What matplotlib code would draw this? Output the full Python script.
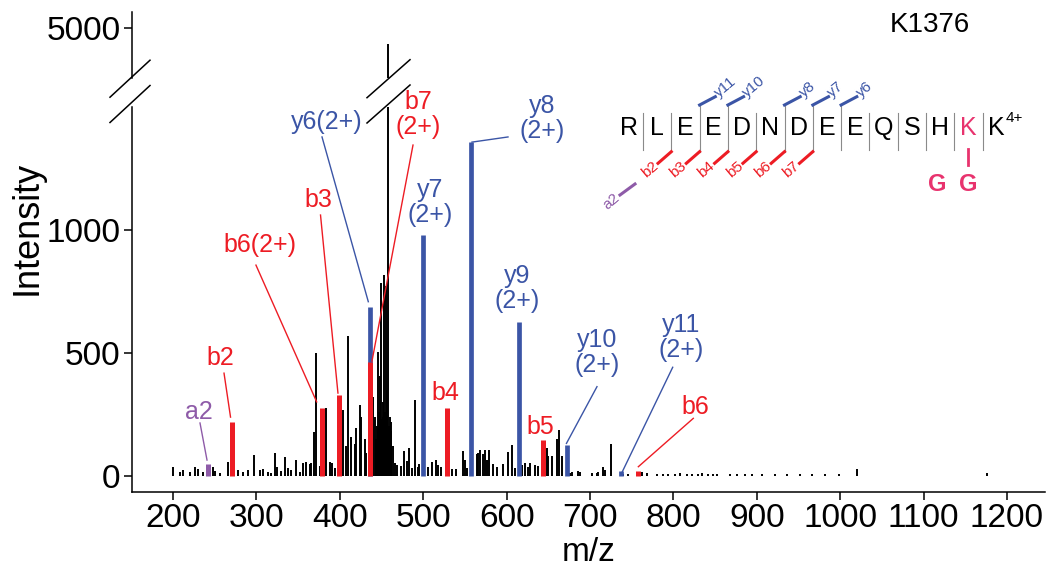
import matplotlib
matplotlib.use("Agg")
import matplotlib.pyplot as plt
from matplotlib.lines import Line2D

plt.rcParams["font.family"] = ["Liberation Sans", "DejaVu Sans"]

RED = "#ED1C24"
BLUE = "#3B55A6"
PURPLE = "#8E5BA8"
PINK = "#E8336E"

# ---- spectrum data (m/z, intensity) ----
black_mz = [200.4, 208, 212, 220, 226, 230, 236, 248, 250, 256, 265.6, 278, 284, 290,
            297.5, 304, 307.5, 314, 318, 322, 325, 330, 334, 338, 342, 347.5, 352, 356,
            360, 364, 366, 369.5, 372, 376, 383, 388, 391, 394, 402, 404, 407, 410, 414,
            418, 420, 424, 426, 430, 432, 440, 442, 444, 445, 446, 447, 448.5, 449, 450,
            451.5, 452, 453, 454, 455, 456.5, 457, 458, 459, 460, 461, 462, 464, 466, 469,
            474, 477, 481, 483, 486, 490, 494, 495, 506, 510, 515, 518, 521, 531, 535, 539,
            548, 550, 553, 564, 566, 568, 572, 574, 576, 579, 584, 588, 596, 602, 606, 610,
            618, 622, 626, 628, 634, 638, 646, 648, 650, 654, 660, 663, 666, 676, 678, 686,
            688, 702, 708, 710, 716, 718, 725, 740, 745, 762, 768, 780, 788, 794, 802, 808,
            816, 822, 830, 834, 842, 848, 852, 868, 876, 886, 894, 906, 922, 936, 952, 966,
            982, 998, 1020, 1176]
black_int = [33, 16, 22, 16, 33, 27, 14, 36, 20, 12, 56, 22, 16, 22,
             83, 22, 27, 16, 10, 93, 36, 20, 74, 29, 22, 63, 16, 50,
             55, 45, 50, 178, 500, 40, 276, 56, 50, 30, 80, 267, 120, 570, 158,
             130, 192, 287, 240, 150, 90, 321, 240, 150, 200, 504, 260, 404, 230, 783,
             300, 240, 817, 260, 770, 350, 230, 4935, 200, 240, 220, 180, 120, 50, 43,
             40, 100, 60, 113, 30, 307, 35, 48, 35, 55, 62, 42, 35, 50, 28, 28,
             100, 65, 30, 86, 92, 105, 86, 104, 62, 105, 48, 35, 48, 95, 125, 30,
             44, 50, 35, 50, 44, 37, 71, 111, 80, 78, 150, 185, 78, 12, 16, 20,
             16, 10, 10, 16, 33, 24, 128, 8, 5, 15, 10, 8, 8, 8, 8, 10,
             8, 8, 8, 10, 8, 8, 8, 8, 6, 8, 6, 6, 6, 6, 6, 6,
             6, 6, 25, 10]

b_mz = [270.2, 379.2, 399.2, 436.7, 528.3, 643.3, 757.4]
b_int = [219, 276, 328, 463, 275, 145, 20]
y_mz = [435.7, 500.25, 557.8, 614.8, 672.3, 736.8]
y_int = [688, 980, 1358, 625, 125, 18]
a_mz = [242.2]
a_int = [47]

x_ticks = [200, 300, 400, 500, 600, 700, 800, 900, 1000, 1100, 1200]
y_ticks_low = [0, 500, 1000]
y_ticks_high = [5000]

# peptide and observed fragment sites (site i = bond after residue i)
SEQUENCE = "RLEEDNDEEQSHKK"
MOD_RESIDUE = 12
y_sites = {3: "y11", 4: "y10", 6: "y8", 7: "y7", 8: "y6"}
b_sites = {2: "b2", 3: "b3", 4: "b4", 5: "b5", 6: "b6", 7: "b7"}

# peak labels: text, colour, label (m/z, int), leader start, leader end
labels = [
    ("a2", PURPLE, (231.5, 260), (232.4, 214), (240.8, 63)),
    ("b2", RED, (256.4, 477), (261.2, 417), (269, 238)),
    ("b6(2+)", RED, (304.3, 939), (299.5, 857), (372.3, 300)),
    ("b3", RED, (374.2, 1122), (376.9, 1061), (397.8, 336)),
    ("y6(2+)", BLUE, (384.3, 1441), (378.7, 1379), (434.2, 708)),
    ("b7\n(2+)", RED, (494.1, 1472), (487.8, 1346), (438.6, 466)),
    ("y7\n(2+)", BLUE, (508.2, 1112), None, None),
    ("y8\n(2+)", BLUE, (642.4, 1456), (601.7, 1379), (558.5, 1358)),
    ("y9\n(2+)", BLUE, (612.1, 760), None, None),
    ("y10\n(2+)", BLUE, (708, 501), (708.4, 362), (671.8, 131)),
    ("y11\n(2+)", BLUE, (809, 562), (799.2, 441), (738.7, 15)),
    ("b4", RED, (526.1, 335), None, None),
    ("b5", RED, (640.9, 199), None, None),
    ("b6", RED, (825.9, 280), (823.9, 233), (758, 36)),
]

W, H = 1056, 567
fig = plt.figure(figsize=(W / 100, H / 100), dpi=100)


def fx(x):
    return x / W


def fy(y):
    return 1 - y / H


x0, x1 = 131.7, 1045
ax = fig.add_axes([fx(x0), fy(492), fx(x1) - fx(x0), fy(107) - fy(492)])
axt = fig.add_axes([fx(x0), fy(78), fx(x1) - fx(x0), fy(12) - fy(78)], sharex=ax)

for a in (ax, axt):
    a.vlines(black_mz, 0, black_int, colors="black", lw=1.4)
    a.vlines(a_mz, 0, a_int, colors=PURPLE, lw=3.6)
    a.vlines(y_mz, 0, y_int, colors=BLUE, lw=3.4)
    a.vlines(b_mz, 0, b_int, colors=RED, lw=3.6)
    for s in ("top", "right"):
        a.spines[s].set_visible(False)
    a.spines["left"].set_linewidth(1.1)
    a.spines["bottom"].set_linewidth(1.1)
    a.tick_params(labelsize=24, width=1.1, length=6, pad=2)

ax.set_xlim(150.5, 1245.6)
ax.set_ylim(-67, 1501)
axt.set_ylim(4796, 5065)
ax.set_xticks(x_ticks)
ax.set_yticks(y_ticks_low)
axt.set_yticks(y_ticks_high)
axt.spines["bottom"].set_visible(False)
axt.tick_params(axis="x", bottom=False, labelbottom=False)
ax.set_xlabel("m/z", fontsize=24, labelpad=2)
fig.text(fx(27), fy(228), "Intensity", fontsize=26, rotation=90,
         ha="center", va="center")

for txt, col, (lx, ly), st, en in labels:
    ax.text(lx, ly, txt, color=col, fontsize=18, ha="center", va="center",
            linespacing=1.05, clip_on=False)
    if st is not None:
        ax.plot([st[0], en[0]], [st[1], en[1]], color=col, lw=1.0, clip_on=False)

fig.text(fx(930), fy(25), "K1376", fontsize=20, ha="center", va="center")


def fline(xs, ys, **kw):
    fig.add_artist(Line2D([fx(v) for v in xs], [fy(v) for v in ys],
                          transform=fig.transFigure, **kw))


# axis break marks
for yb in (78.7, 104):
    fline([110, 150], [yb + 18.5, yb - 18.5], color="black", lw=1.1)
for yb in (78.7, 104):
    fline([367, 410], [yb + 19, yb - 19], color="black", lw=1.1)

# peptide sequence map
seps = [643 + 28.3 * (i - 1) for i in range(1, len(SEQUENCE))]
edges = [615] + seps + [1011]
ys = 128
for k, res in enumerate(SEQUENCE):
    cx = (edges[k] + edges[k + 1]) / 2
    fig.text(fx(cx), fy(ys), res, fontsize=18, ha="center", va="center",
             color=PINK if k == MOD_RESIDUE else "black")
fig.text(fx(1006), fy(118), "4+", fontsize=11, ha="left", va="center")

for i, sx in enumerate(seps, start=1):
    top = 105 if i in y_sites else 113
    bot = 152 if i in b_sites else 150
    fline([sx, sx], [top, bot], color="#8a8a8a", lw=0.8)
    if i in y_sites:
        fline([sx, sx + 15.7], [105, 96.7], color=BLUE, lw=2.2)
        fig.text(fx(sx + 17), fy(95), y_sites[i], fontsize=11, color=BLUE,
                 rotation=40, rotation_mode="anchor", ha="left", va="center")
    if i in b_sites:
        fline([sx, sx - 13.3], [151.7, 163.3], color=RED, lw=2.2)
        fig.text(fx(sx - 15), fy(164), b_sites[i], fontsize=11, color=RED,
                 rotation=40, rotation_mode="anchor", ha="right", va="center")

# a2 mark
fline([635, 620], [184, 195], color=PURPLE, lw=2.2)
fig.text(fx(618), fy(196), "a2", fontsize=11, color=PURPLE,
         rotation=40, rotation_mode="anchor", ha="right", va="center")

# GG on the modified lysine
kx = (edges[MOD_RESIDUE] + edges[MOD_RESIDUE + 1]) / 2
fline([kx, kx], [149, 165], color=PINK, lw=2.0)
fig.text(fx(kx), fy(185), "G", fontsize=17, fontweight="bold", color=PINK,
         ha="center", va="center")
fig.text(fx(kx - 31), fy(185), "G", fontsize=17, fontweight="bold", color=PINK,
         ha="center", va="center")

fig.savefig("out.png", dpi=100)
